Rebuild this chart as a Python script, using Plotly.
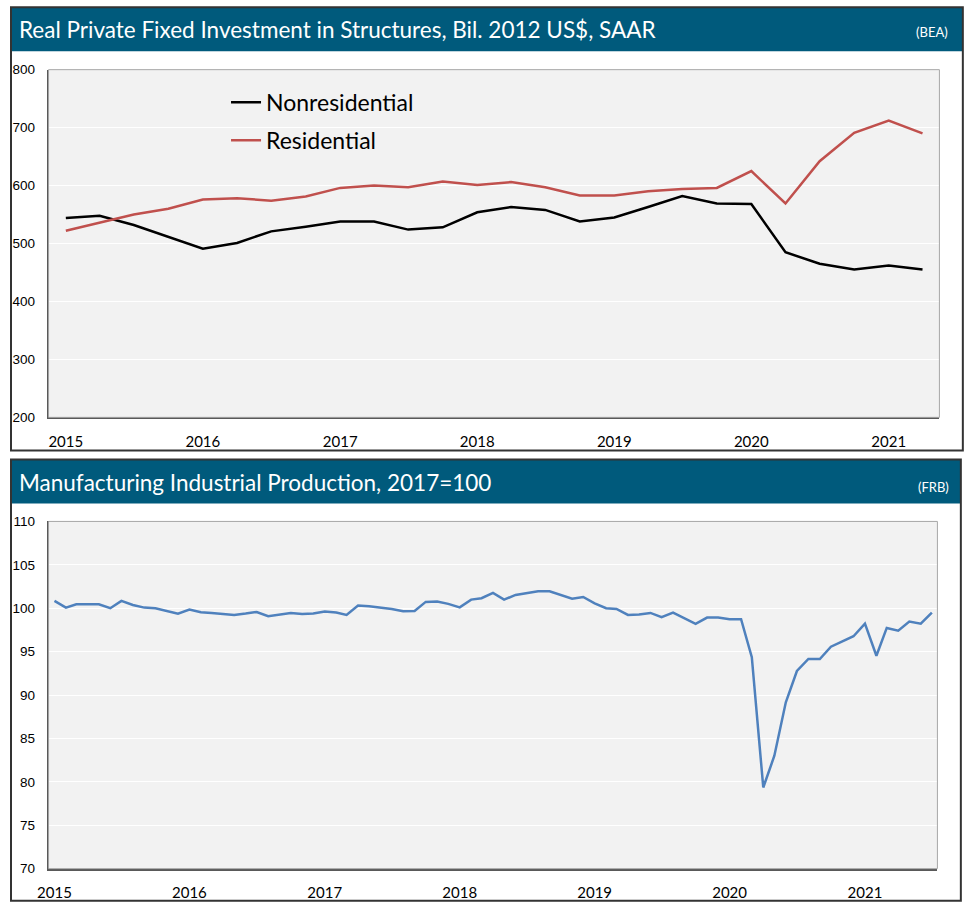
import plotly.graph_objects as go
import pandas as pd

W, H = 970, 912
# screenshot calibration: shown = S * (div + O)
SX, SY = 0.9916, 0.983
OX, OY = 8.4, 8.0

# quarterly, 2015Q1 - 2021Q2, bil. 2012 US$ SAAR
nonres = [544, 548, 532, 512, 491, 501, 521, 529, 538, 538, 524, 528, 554,
          563, 558, 538, 545, 563, 582, 569, 568, 485, 465, 455, 462, 455]
res = [522, 536, 550, 560, 576, 578, 574, 581, 596, 600, 597, 607, 601,
       606, 597, 583, 583, 590, 594, 596, 625, 569, 642, 691, 712, 690]

# monthly, Jan 2015 - Jul 2021, 2017=100
mfg_ip = [100.84, 100.07, 100.46, 100.46, 100.46, 100.0, 100.84, 100.38, 100.07, 100.0, 99.69, 99.38,
          99.84, 99.53, 99.46, 99.3, 99.23, 99.38, 99.57, 99.08, 99.3, 99.46, 99.34, 99.38,
          99.61, 99.5, 99.23, 100.3, 100.23, 100.1, 99.92, 99.65, 99.69, 100.73, 100.76, 100.5,
          100.1, 100.99, 101.15, 101.76, 100.99, 101.53, 101.76, 101.96, 101.96, 101.53, 101.1, 101.3,
          100.57, 100.0, 99.92, 99.23, 99.27, 99.46, 98.96, 99.5, 98.88, 98.2, 98.92, 98.92,
          98.73, 98.73, 94.35, 79.35, 83.0, 89.16, 92.77, 94.15, 94.15, 95.57, 96.19, 96.77,
          98.22, 94.53, 97.73, 97.42, 98.46, 98.22, 99.5]

qtrs = pd.date_range("2015-01-01", periods=len(nonres), freq="QS")
months = pd.date_range("2015-01-01", periods=len(mfg_ip), freq="MS")

title_top = "Real Private Fixed Investment in Structures, Bil. 2012 US$, SAAR"
title_bot = "Manufacturing Industrial Production, 2017=100"

BAR = "#005A7C"
TITLE_FONT = "Lato"


def px(x):
    # screen pixel -> paper
    return max(0.0, (x / SX - OX) / W)


def py(y):
    return min(1.0, 1 - (y / SY - OY) / H)


fig = go.Figure()

fig.add_trace(go.Scatter(x=qtrs, y=nonres, mode="lines", name="Nonresidential",
                         line=dict(color="black", width=2.5), legend="legend"))
fig.add_trace(go.Scatter(x=qtrs, y=res, mode="lines", name="Residential",
                         line=dict(color="#C0504D", width=2.5), legend="legend2"))
fig.add_trace(go.Scatter(x=months, y=mfg_ip, mode="lines", name="Manufacturing IP",
                         line=dict(color="#4F81BD", width=2.5), showlegend=False,
                         xaxis="x2", yaxis="y2"))

shapes = []
# panel frames and title bars
for (x0, y0, x1, y1, yb) in [(7, 8, 963, 451, 52), (7, 460, 961, 901, 504)]:
    shapes.append(dict(type="rect", xref="paper", yref="paper",
                       x0=px(x0), x1=px(x1), y0=py(y0), y1=py(yb),
                       fillcolor=BAR, line=dict(width=0), layer="below"))
    shapes.append(dict(type="rect", xref="paper", yref="paper",
                       x0=px(x0), x1=px(x1), y0=py(y1), y1=py(y0),
                       line=dict(color="#333333", width=2), layer="below"))
# plot area borders
for xr, yr in [("x", "y"), ("x2", "y2")]:
    shapes.append(dict(type="rect", xref=xr + " domain", yref=yr + " domain",
                       x0=0, x1=1, y0=0, y1=1,
                       line=dict(color="#A6A6A6", width=1), layer="above"))

annotations = [
    dict(text=title_top, x=px(14), y=py(30), xref="paper", yref="paper",
         xanchor="left", yanchor="middle", showarrow=False,
         font=dict(family=TITLE_FONT, size=22.5, color="white")),
    dict(text="(BEA)", x=px(950), y=py(33), xref="paper", yref="paper",
         xanchor="right", yanchor="middle", showarrow=False,
         font=dict(family=TITLE_FONT, size=13, color="white")),
    dict(text=title_bot, x=px(14), y=py(483), xref="paper", yref="paper",
         xanchor="left", yanchor="middle", showarrow=False,
         font=dict(family=TITLE_FONT, size=22.5, color="white")),
    dict(text="(FRB)", x=px(951), y=py(488), xref="paper", yref="paper",
         xanchor="right", yanchor="middle", showarrow=False,
         font=dict(family=TITLE_FONT, size=13, color="white")),
]

xcommon = dict(showgrid=False, dtick="M12", tickformat="%Y", tick0="2015-01-01",
               ticks="outside", ticklen=10, tickcolor="rgba(0,0,0,0)",
               showline=True, linecolor="#595959", linewidth=1.5, zeroline=False,
               tickfont=dict(family="Lato", size=15, color="black"))
ycommon = dict(showgrid=True, gridcolor="white", gridwidth=1,
               ticks="outside", ticklen=9, tickcolor="rgba(0,0,0,0)",
               showline=True, linecolor="#595959", linewidth=1.5, zeroline=False,
               tickfont=dict(family="Liberation Sans", size=13.5, color="black"))

fig.update_layout(
    width=W, height=H,
    margin=dict(l=0, r=0, t=0, b=0),
    paper_bgcolor="white",
    plot_bgcolor="#F2F2F2",
    xaxis=dict(domain=[px(46), px(939.5)], anchor="y",
               range=["2014-11-16", "2021-05-16"], **xcommon),
    yaxis=dict(domain=[py(418), py(70.5)], anchor="x",
               range=[200, 800], dtick=100, **ycommon),
    xaxis2=dict(domain=[px(46), px(937.5)], anchor="y2",
                range=["2014-12-16", "2021-07-16"], **xcommon),
    yaxis2=dict(domain=[py(869), py(522)], anchor="x2",
                range=[70, 110], dtick=5, **ycommon),
    legend=dict(x=px(224), y=py(103), xanchor="left", yanchor="middle",
                bgcolor="rgba(0,0,0,0)", font=dict(family="Lato", size=23, color="black")),
    legend2=dict(x=px(224), y=py(141), xanchor="left", yanchor="middle",
                 bgcolor="rgba(0,0,0,0)", font=dict(family="Lato", size=23, color="black")),
    shapes=shapes,
    annotations=annotations,
)

# drop the default page margin so the figure sits at the window corner
fig.write_html("out.html", config={"displayModeBar": False},
               post_script="document.body.style.margin='0';")
